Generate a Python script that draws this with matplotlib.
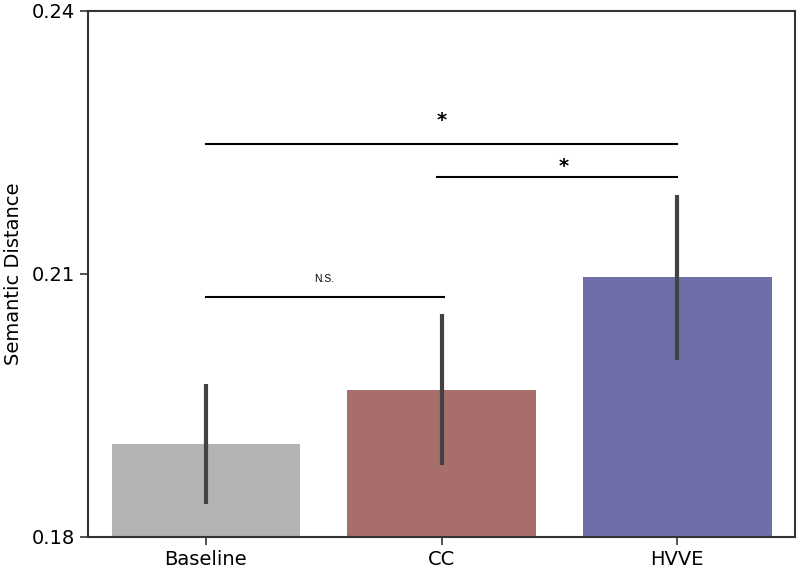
import numpy as np
import matplotlib
matplotlib.use('Agg')
import matplotlib.pyplot as plt

# data
groups = ['Baseline', 'CC', 'HVVE']
means = [0.1906, 0.1968, 0.2096]
ci_low = [0.1838, 0.1882, 0.2002]
ci_high = [0.1974, 0.2054, 0.2190]
colors = ['#b3b3b3', '#a86e6c', '#6e6ea8']

# significance brackets: (x_start, x_end, y, label, label_x, label_y)
brackets = [
    (0.0, 1.01, 0.2074, 'N.S.', 0.50, 0.2094),
    (0.0, 2.0, 0.2248, '*', 1.00, 0.2275),
    (0.98, 2.0, 0.2210, '*', 1.52, 0.2222),
]

fig = plt.figure(figsize=(8, 5.7), dpi=100)
ax = fig.add_axes([0.11, 0.058, 0.884, 0.923])

x = np.arange(len(groups))
ax.bar(x, means, width=0.8, color=colors)
for xi, lo, hi in zip(x, ci_low, ci_high):
    ax.plot([xi, xi], [lo, hi], color='#424242', lw=3, solid_capstyle='butt')

for x0, x1, y, lab, lx, ly in brackets:
    ax.plot([x0, x1], [y, y], color='black', lw=1.5)
    if lab == 'N.S.':
        ax.text(lx, ly, lab, ha='center', va='center', fontsize=7.5, family='Liberation Sans')
    else:
        ax.text(lx, ly, lab, ha='center', va='center', fontsize=14, fontweight='bold')

ax.set_xlim(-0.5, 2.5)
ax.set_ylim(0.18, 0.24)
ax.set_yticks([0.18, 0.21, 0.24])
ax.set_yticklabels(['0.18', '0.21', '0.24'])
ax.set_xticks(x)
ax.set_xticklabels(groups)
ax.tick_params(labelsize=14, length=6, width=1.2, color='#333333')
ax.set_ylabel('Semantic Distance', fontsize=14, labelpad=6)
for s in ax.spines.values():
    s.set_color('#333333')
    s.set_linewidth(1.5)

fig.savefig('out.png', dpi=100)
